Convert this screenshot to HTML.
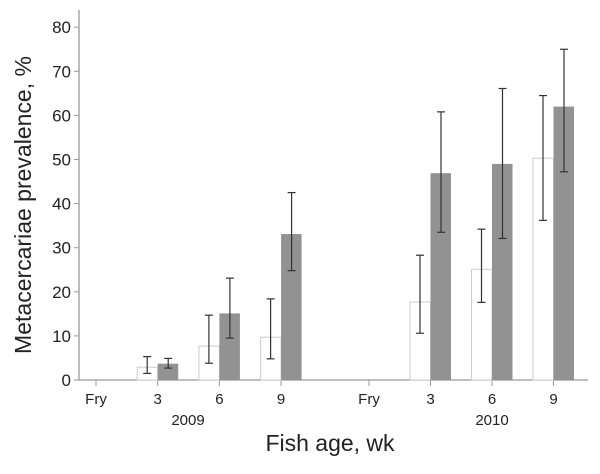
<!DOCTYPE html>
<html><head><meta charset="utf-8"><style>
body{margin:0;background:#fff;}
svg text{font-family:"Liberation Sans",Arial,sans-serif;fill:#222;}
</style></head><body>
<svg id="c" width="600" height="469"></svg>
<script>
const categories=["Fry","3","6","9","Fry","3","6","9"];
const years=["2009","2010"];
const whiteVals=[0,2.9,7.7,9.7,0,17.7,25.1,50.3];
const whiteLo=[null,1.5,3.8,4.8,null,10.6,17.6,36.2];
const whiteHi=[null,5.3,14.7,18.4,null,28.3,34.2,64.5];
const grayVals=[0,3.7,15.1,33.1,0,46.9,49.0,62.0];
const grayLo=[null,2.7,9.5,24.8,null,33.5,32.1,47.2];
const grayHi=[null,4.9,23.1,42.5,null,60.8,66.1,75.0];
const yTicks=[0,10,20,30,40,50,60,70,80];

const svg=document.getElementById('c');
const NS='http://www.w3.org/2000/svg';
const y0=380,pxPer=4.41;
const y=v=>y0-v*pxPer;
const xs=i=>(i<4?96+i*61.7:369+(i-4)*61.5);
function mk(t,a){const e=document.createElementNS(NS,t);for(const k in a)e.setAttribute(k,a[k]);svg.appendChild(e);return e;}

let e=mk('line',{x1:79,y1:10,x2:79,y2:380,stroke:'#999','stroke-width':1.3});


e=mk('line',{x1:79,y1:380,x2:588,y2:380,stroke:'#999','stroke-width':1.3});



yTicks.forEach(v=>{
 let t=mk('line',{x1:74,x2:79,y1:y(v),y2:y(v),stroke:'#999'});
 
 
 let l=mk('text',{x:71,y:y(v)+6,'text-anchor':'end','font-size':17});
 l.textContent=v;
 
 
});

function err(x,lo,hi){
 if(lo==null)return;
 const g=mk('g',{stroke:'#333','stroke-width':1.2});
 
 
 [[x,y(lo),x,y(hi)],[x-4,y(lo),x+4,y(lo)],[x-4,y(hi),x+4,y(hi)]].forEach(p=>{const l=document.createElementNS(NS,'line');l.setAttribute('x1',p[0]);l.setAttribute('y1',p[1]);l.setAttribute('x2',p[2]);l.setAttribute('y2',p[3]);g.appendChild(l);});
}

categories.forEach((c,i)=>{
 const x=xs(i);
 let t=mk('line',{x1:x,x2:x,y1:380,y2:386,stroke:'#999'});
 
 
 if(whiteVals[i]>0){
  let b=mk('rect',{x:x-20.5,y:y(whiteVals[i]),width:20.5,height:whiteVals[i]*pxPer,fill:'#fff',stroke:'#ccc','stroke-width':1});
  
  
 }
 if(grayVals[i]>0){
  let b=mk('rect',{x:x,y:y(grayVals[i]),width:20.5,height:grayVals[i]*pxPer,fill:'#929292'});
  
  
 }
 err(x-10.5,whiteLo[i],whiteHi[i]);
 err(x+10.5,grayLo[i],grayHi[i]);
 let l=mk('text',{x:x,y:404,'text-anchor':'middle','font-size':15});
 l.textContent=c;
 
 
});
years.forEach((yr,k)=>{
 let l=mk('text',{x:k?492:188,y:425,'text-anchor':'middle','font-size':15});
 l.textContent=yr;
 
 
});
e=mk('text',{x:330,y:451,'text-anchor':'middle','font-size':23});
e.textContent='Fish age, wk';


e=mk('text',{x:0,y:0,'text-anchor':'middle','font-size':23,transform:'translate(31,205) rotate(-90)'});
e.textContent='Metacercariae prevalence, %';


</script>
</body></html>
